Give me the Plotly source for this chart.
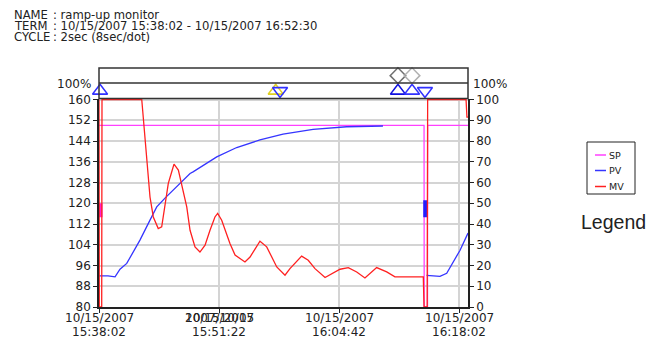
import plotly.graph_objects as go

# ---------------------------------
# Data (elapsed seconds from 10/15/2007 15:38:02)
# ---------------------------------

sp_t = [0, 2167, 2168, 2190, 2191, 2460]
sp_val = [150, 150, 80, 80, 150, 150]

pv_t = [0, 60, 107, 140, 185, 273, 340, 385, 440, 518, 560, 607, 627, 785, 918,
        1073, 1227, 1340, 1427, 1651, 1893, None, 2184, 2273, 2318, 2360, 2407, 2460]
pv_val = [92.0, 92.0, 91.6, 94.6, 96.8, 105.8, 113.5, 118.6, 122.0, 126.3, 128.9, 131.5,
          132.1, 137.9, 141.5, 144.4, 146.7, 147.6, 148.5, 149.5, 149.8, None,
          92.2, 91.8, 93.0, 97.4, 101.9, 108.5]

mv_t = [0, 2, 18, 20, 285, 300, 318, 325, 340, 362, 395, 418, 440, 462, 485, 500,
        529, 562, 585, 607, 640, 673, 707, 740, 773, 791, 818, 873, 907, 973, 1007,
        1073, 1118, 1185, 1240, 1273, 1351, 1395, 1440, 1507, 1573, 1607, 1662, 1718,
        1773, 1851, 1918, 1973, 2162, 2167, 2188, 2191, 2447, 2453, 2460]
mv_val = [100, 0, 0, 100, 100, 86.9, 70.8, 66, 53, 43.4, 37.8, 38.6, 48.3, 59.6, 65.2,
          68.9, 66, 56.3, 48.3, 37, 29, 26.5, 29.8, 37, 43.4, 45.1, 41.8, 30.6, 25, 21.7,
          24.1, 31.7, 29, 19.3, 15.3, 18.5, 24.5, 22.5, 18.5, 14.2, 16.9, 18.2, 19, 16.9,
          14, 19, 16.9, 14.5, 14.5, 0, 0, 100, 100, 91.5, 91.5]

# short thick blips at the restarts
sp_blip_t = [10, 10]
sp_blip_val = [114.6, 120.0]
pv_blip_t = [2175, 2175]
pv_blip_val = [114.6, 121.2]

# event marks in the band above the plot
tri_t = [7, 1178, 1207, 1993, 2087, 2173]
tri_symbol = ["triangle-up-open", "triangle-up-open", "triangle-down-open",
              "triangle-up-open", "triangle-up-open", "triangle-down-open"]
tri_color = ["#3030ff", "#e0d020", "#3030ff", "#1010e0", "#3030ff", "#3030ff"]
dia_t = [1993, 2087]
dia_color = ["#707070", "#b0b0b0"]

tick_t = [0, 800, 1600, 2400]
tick_date = ["10/15/2007", "10/15/2007", "10/15/2007", "10/15/2007"]
tick_time = ["15:38:02", "15:51:22", "16:04:42", "16:18:02"]

# ---------------------------------
# Pixel helpers (649 x 340 page)
# ---------------------------------

L, R, T, B = 99, 468, 68, 307


def px(x):
    return (x - L) / (R - L)


def py(y):
    return (B - y) / (B - T)


top_main = py(98.5)
band_mid = py(83)

FONT = "DejaVu Sans"

fig = go.Figure()

fig.add_scatter(x=sp_t, y=sp_val, mode="lines", line=dict(color="#ff40ff", width=1.3),
                name="SP", showlegend=False)
fig.add_scatter(x=sp_blip_t, y=sp_blip_val, mode="lines", line=dict(color="#ff20d0", width=4),
                showlegend=False)
fig.add_scatter(x=pv_t, y=pv_val, mode="lines", line=dict(color="#3535ff", width=1.3),
                name="PV", showlegend=False, connectgaps=False)
fig.add_scatter(x=pv_blip_t, y=pv_blip_val, mode="lines", line=dict(color="#2020ff", width=4),
                showlegend=False)
fig.add_scatter(x=mv_t, y=mv_val, mode="lines", line=dict(color="#ff2020", width=1.3),
                name="MV", yaxis="y2", showlegend=False)

fig.add_scatter(x=tri_t, y=[0.5] * len(tri_t), mode="markers", xaxis="x2", yaxis="y3",
                marker=dict(symbol=tri_symbol, size=13, color=tri_color,
                            line=dict(color=tri_color, width=1.6)),
                cliponaxis=False, showlegend=False)
fig.add_scatter(x=dia_t, y=[1.5] * len(dia_t), mode="markers", xaxis="x2", yaxis="y3",
                marker=dict(symbol="diamond-open", size=12, color=dia_color,
                            line=dict(color=dia_color, width=1.5)),
                cliponaxis=False, showlegend=False)

# ---------------------------------
# Layout
# ---------------------------------

fig.update_layout(
    width=649, height=340,
    margin=dict(l=L, r=649 - R, t=T, b=340 - B, autoexpand=False),
    paper_bgcolor="white", plot_bgcolor="white",
    font=dict(family=FONT, size=12, color="#222"),
    xaxis=dict(range=[0, 2460], tickvals=tick_t, showticklabels=False,
               showgrid=True, gridcolor="#d4d4d4", gridwidth=1.5,
               showline=True, linecolor="#222", linewidth=1.5,
               ticks="outside", ticklen=4, tickcolor="#222", zeroline=False,
               anchor="y", automargin=False),
    xaxis2=dict(matches="x", anchor="y3", visible=False, range=[0, 2460]),
    yaxis=dict(range=[80, 160.4], domain=[0, top_main], tickvals=list(range(80, 161, 8)),
               showgrid=True, gridcolor="#d4d4d4", gridwidth=1.5,
               showline=True, linecolor="#222", linewidth=1.5,
               ticks="outside", ticklen=4, tickcolor="#222", zeroline=False,
               automargin=False),
    yaxis2=dict(range=[0, 100.5], overlaying="y", side="right",
                tickvals=list(range(0, 101, 10)),
                showgrid=False, showline=True, linecolor="#222", linewidth=1.5,
                ticks="outside", ticklen=4, tickcolor="#222", zeroline=False,
                automargin=False),
    yaxis3=dict(domain=[top_main, 1], range=[0, 2], visible=False),
)

# band box
fig.add_shape(type="rect", xref="paper", yref="paper", x0=0, x1=1, y0=top_main, y1=1,
              line=dict(color="#333", width=1.5))
fig.add_shape(type="line", xref="paper", yref="paper", x0=0, x1=1, y0=band_mid, y1=band_mid,
              line=dict(color="#333", width=1.5))

annos = []
annos.append(dict(x=px(93), y=py(84), text="100%", xanchor="right"))
annos.append(dict(x=px(471), y=py(84), text="100%", xanchor="left"))

# x tick labels (date over time)
for t, d, tm in zip(tick_t, tick_date, tick_time):
    annos.append(dict(x=t, xref="x", y=py(318), text=d, xanchor="center"))
    annos.append(dict(x=t, xref="x", y=py(332), text=tm, xanchor="center"))
# overprinted date under the second tick
annos.append(dict(x=800, xref="x", y=py(318), text="2007/10/15", xanchor="center"))

# header
hdr_font = dict(family=FONT, size=11.6, color="#222")
for label, val, yy in [("NAME", ": ramp-up monitor", 15),
                       ("TERM", ": 10/15/2007 15:38:02 - 10/15/2007 16:52:30", 26),
                       ("CYCLE", ": 2sec (8sec/dot)", 37)]:
    annos.append(dict(x=px(12), y=py(yy), text=label, xanchor="left", font=hdr_font))
    annos.append(dict(x=px(51), y=py(yy), text=val, xanchor="left", font=hdr_font))

# legend box
fig.add_shape(type="rect", xref="paper", yref="paper", x0=px(587), x1=px(635),
              y0=py(194), y1=py(142), line=dict(color="#222", width=1))
for name, col, yy in [("SP", "#ff40ff", 155), ("PV", "#3535ff", 170.5), ("MV", "#ff2020", 186.5)]:
    fig.add_shape(type="line", xref="paper", yref="paper", x0=px(595), x1=px(606),
                  y0=py(yy), y1=py(yy), line=dict(color=col, width=1.5))
    annos.append(dict(x=px(607), y=py(yy), text=name, xanchor="left",
                      font=dict(family=FONT, size=9.5, color="#222")))
annos.append(dict(x=px(613), y=py(222), text="Legend", xanchor="center",
                  font=dict(family="Liberation Sans", size=19.5, color="#222")))

for a in annos:
    a.setdefault("xref", "paper")
    a.setdefault("yref", "paper")
    a.setdefault("yanchor", "middle")
    a.setdefault("showarrow", False)
    a.setdefault("font", dict(family=FONT, size=12, color="#222"))
    fig.add_annotation(**a)

fig.write_html("out.html", config={"displayModeBar": False},
               post_script="document.body.style.margin='0';")
